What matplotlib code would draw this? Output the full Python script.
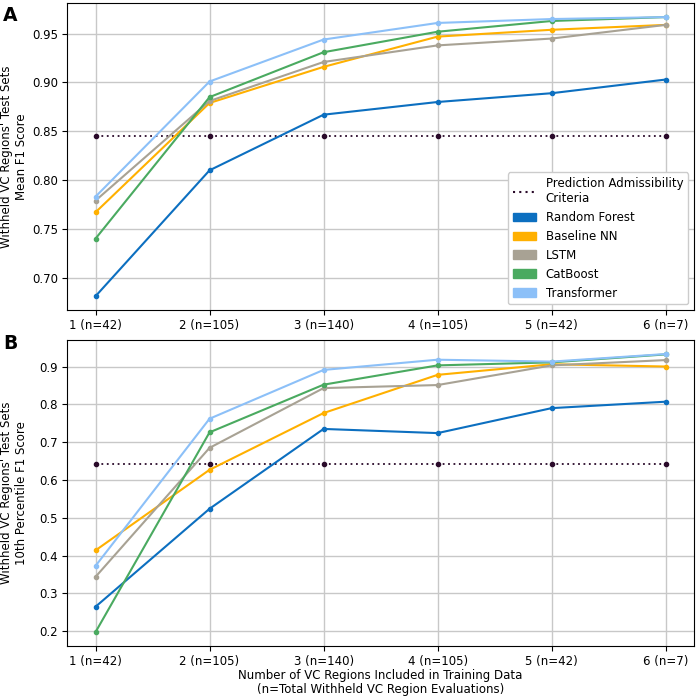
import matplotlib
matplotlib.use("Agg")
import matplotlib.pyplot as plt
from matplotlib.patches import Patch
from matplotlib.lines import Line2D

x_labels = ["1 (n=42)", "2 (n=105)", "3 (n=140)", "4 (n=105)", "5 (n=42)", "6 (n=7)"]
models = ["Random Forest", "Baseline NN", "LSTM", "CatBoost", "Transformer"]
colors = ["#0c6fc0", "#ffb000", "#a8a294", "#4aaa60", "#8cc0f8"]

mean_f1 = {
    "Random Forest": [0.681, 0.810, 0.867, 0.880, 0.889, 0.903],
    "Baseline NN":   [0.767, 0.879, 0.916, 0.947, 0.954, 0.959],
    "LSTM":          [0.779, 0.881, 0.921, 0.938, 0.945, 0.959],
    "CatBoost":      [0.740, 0.885, 0.931, 0.952, 0.963, 0.967],
    "Transformer":   [0.783, 0.901, 0.944, 0.961, 0.965, 0.967],
}
mean_criteria = 0.845

p10_f1 = {
    "Random Forest": [0.265, 0.524, 0.735, 0.724, 0.790, 0.807],
    "Baseline NN":   [0.414, 0.627, 0.777, 0.878, 0.906, 0.900],
    "LSTM":          [0.344, 0.685, 0.843, 0.851, 0.903, 0.917],
    "CatBoost":      [0.198, 0.726, 0.852, 0.903, 0.911, 0.932],
    "Transformer":   [0.373, 0.762, 0.891, 0.918, 0.913, 0.933],
}
p10_criteria = 0.642

crit_color = "#2a0a2a"
xs = list(range(1, len(x_labels) + 1))
FS = 8.5

fig = plt.figure(figsize=(6.99, 6.97), dpi=100)
axA = fig.add_axes([0.0959, 0.555, 0.8971, 0.4405])
axB = fig.add_axes([0.0959, 0.0732, 0.8971, 0.4388])

def draw(ax, data, crit):
    ax.plot(xs, [crit] * len(xs), linestyle=(0, (1, 2)), color=crit_color,
            marker="o", markersize=3, linewidth=1.3)
    for m, c in zip(models, colors):
        ax.plot(xs, data[m], color=c, marker="o", markersize=3, linewidth=1.5)
    ax.set_xticks(xs)
    ax.set_xticklabels(x_labels)
    ax.grid(True, color="#c8c8c8", linewidth=1.0)
    ax.set_axisbelow(True)
    ax.tick_params(labelsize=FS, pad=3)

draw(axA, mean_f1, mean_criteria)
draw(axB, p10_f1, p10_criteria)

axA.set_yticks([0.70, 0.75, 0.80, 0.85, 0.90, 0.95])
axA.set_yticklabels(["0.70", "0.75", "0.80", "0.85", "0.90", "0.95"])
axB.set_yticks([0.2, 0.3, 0.4, 0.5, 0.6, 0.7, 0.8, 0.9])

axA.set_ylabel("Withheld VC Regions' Test Sets\nMean F1 Score", fontsize=FS)
axB.set_ylabel("Withheld VC Regions' Test Sets\n10th Percentile F1 Score", fontsize=FS)
axA.yaxis.set_label_coords(-0.062, 0.5)
axB.yaxis.set_label_coords(-0.062, 0.5)
axB.set_xlabel("Number of VC Regions Included in Training Data\n(n=Total Withheld VC Region Evaluations)",
               fontsize=FS, linespacing=1.1)
axB.xaxis.set_label_coords(0.5, -0.074)

handles = [Line2D([0], [0], linestyle=(0, (1, 2)), color=crit_color, linewidth=1.5)]
handles += [Patch(color=c) for c in colors]
labels = ["Prediction Admissibility\nCriteria"] + models
axA.legend(handles, labels, loc="lower right", fontsize=FS, framealpha=1.0,
           handlelength=2.0)

fig.text(0.004, 0.992, "A", fontsize=13.5, fontweight="bold", va="top", ha="left")
fig.text(0.004, 0.521, "B", fontsize=13.5, fontweight="bold", va="top", ha="left")

fig.savefig("out.png", dpi=100)
